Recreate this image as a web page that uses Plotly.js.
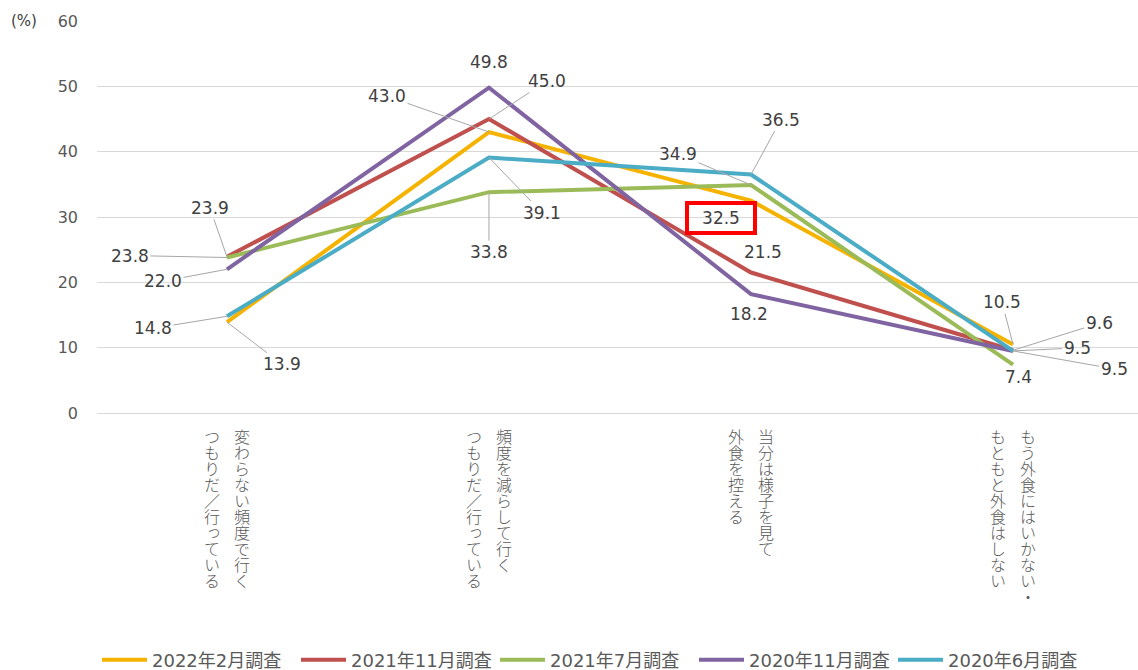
<!DOCTYPE html>
<html><head><meta charset="utf-8">
<script src="https://cdn.plot.ly/plotly-3.0.1.min.js"></script>
<style>
html,body{margin:0;padding:0;background:#fff;}
#wrap{position:relative;width:1138px;height:670px;overflow:hidden;}
#chart{width:1138px;height:670px;}
.cat{position:absolute;writing-mode:vertical-rl;font-family:"Noto Sans CJK JP","Noto Sans CJK SC",sans-serif;font-weight:300;font-size:16px;line-height:30px;color:#595959;white-space:pre;}
</style></head>
<body><div id="wrap"><div id="chart"></div></div>
<script>
// ---- data ----
const categoryLines = [
  ["変わらない頻度で行く", "つもりだ／行っている"],
  ["頻度を減らして行く", "つもりだ／行っている"],
  ["当分は様子を見て", "外食を控える"],
  ["もう外食にはいかない・", "もともと外食はしない"]
];
const categories = categoryLines.map(l => l.join(""));
const seriesNames = ["2022年2月調査", "2021年11月調査", "2021年7月調査", "2020年11月調査", "2020年6月調査"];
const s2022Feb = [13.9, 43.0, 32.5, 10.5];
const s2021Nov = [23.9, 45.0, 21.5, 9.6];
const s2021Jul = [23.8, 33.8, 34.9, 7.4];
const s2020Nov = [22.0, 49.8, 18.2, 9.5];
const s2020Jun = [14.8, 39.1, 36.5, 9.5];
const yTicks = [0, 10, 20, 30, 40, 50, 60];

// ---- styles ----
const seriesData = [s2022Feb, s2021Nov, s2021Jul, s2020Nov, s2020Jun];
const colors = ["#F5B300", "#C0504D", "#9BBB59", "#8064A2", "#4BACC6"];
// label offsets in px [dx, dy, arrow, boxed]
const labelOffsets = [
  [[55, 42, 1], [-102, -36, 1], [-30, 17, 0, 1], [-11, -42, 1]],
  [[-17, -49, 1], [58, -38, 1], [12, -21, 0], [86, -27, 1]],
  [[-97, -2, 1], [0, 60, 1], [-73, -31, 1], [5, 12, 0]],
  [[-64, 12, 1], [0, -26, 0], [-2, 20, 0], [64, -3, 1]],
  [[-74, 12, 1], [53, 55, 1], [30, -55, 1], [101, 18, 1]]
];
const numFont = {family: "DejaVu Sans, Verdana, sans-serif", size: 17, color: "#404040"};

const traces = seriesData.map((vals, k) => ({
  type: "scatter", mode: "lines", name: seriesNames[k],
  x: categories, y: vals,
  line: {color: colors[k], width: 4},
  hoverinfo: "skip"
}));

const annotations = [];
seriesData.forEach((vals, k) => {
  vals.forEach((v, i) => {
    const o = labelOffsets[k][i];
    const a = {x: categories[i], y: v, xref: "x", yref: "y", text: v.toFixed(1), font: numFont};
    if (o[2]) {
      Object.assign(a, {showarrow: true, ax: o[0], ay: o[1], arrowhead: 0, arrowwidth: 1, arrowcolor: "#a6a6a6", standoff: 0, startstandoff: 0});
    } else {
      Object.assign(a, {showarrow: false, xshift: o[0], yshift: -o[1]});
    }
    if (o[3]) {
      Object.assign(a, {bordercolor: "#FF0000", borderwidth: 4, borderpad: 1, width: 62, height: 24});
    }
    annotations.push(a);
  });
});
annotations.push({xref: "paper", yref: "paper", x: 0, y: 1, xshift: -73, yshift: 0, xanchor: "center", yanchor: "middle",
  text: "(%)", showarrow: false, font: {family: "DejaVu Sans, sans-serif", size: 15, color: "#404040"}});

const layout = {
  width: 1138, height: 670,
  margin: {l: 97, r: 0, t: 21, b: 257, autoexpand: false},
  paper_bgcolor: "#fff", plot_bgcolor: "#fff",
  showlegend: true,
  legend: {orientation: "h", x: 0.0, xanchor: "left", xref: "paper", yref: "container", y: 0.015, yanchor: "middle",
    itemwidth: 45, entrywidth: 139,
    font: {family: "DejaVu Sans, Noto Sans CJK JP, sans-serif", size: 18, color: "#595959"}, traceorder: "normal"},
  xaxis: {type: "category", categoryorder: "array", categoryarray: categories, range: [-0.496, 3.477],
    showgrid: false, showticklabels: false, showline: false, zeroline: false, ticks: ""},
  yaxis: {range: [0, 60], tickvals: yTicks, ticktext: yTicks.map(String), showgrid: true, gridcolor: "#d9d9d9", gridwidth: 1,
    zeroline: true, zerolinecolor: "#d9d9d9", zerolinewidth: 1, showline: false, ticks: "", ticklabelstandoff: 18,
    tickfont: {family: "DejaVu Sans, Verdana, sans-serif", size: 16, color: "#595959"}},
  annotations: annotations
};

Plotly.newPlot("chart", traces, layout, {displayModeBar: false, staticPlot: true}).then(gd => {
  const fl = gd._fullLayout, xa = fl.xaxis, sz = fl._size;
  const wrap = document.getElementById("wrap");
  categoryLines.forEach((lines, i) => {
    const d = document.createElement("div");
    d.className = "cat";
    d.textContent = lines.join("\n");
    wrap.appendChild(d);
    const px = sz.l + xa.l2p(i);
    d.style.left = (px - d.offsetWidth / 2) + "px";
    d.style.top = (sz.t + sz.h + 16) + "px";
  });
});
</script>
</body></html>
